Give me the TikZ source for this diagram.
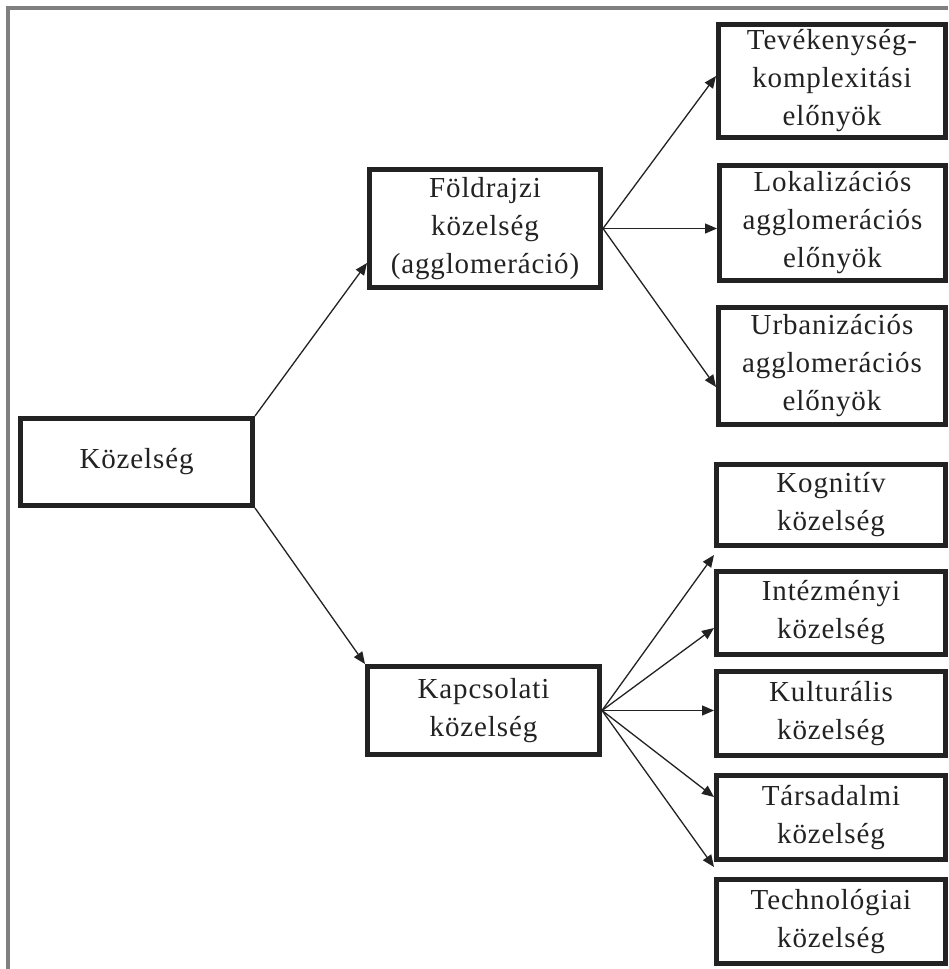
\documentclass[tikz,border=0pt]{standalone}
\usepackage{fontspec}
\setmainfont{Liberation Serif}[LetterSpace=3]
\usetikzlibrary{arrows.meta,calc}
\definecolor{boxc}{HTML}{222222}
\definecolor{txt}{HTML}{222222}
\definecolor{framec}{HTML}{808080}
\begin{document}
\begin{tikzpicture}[x=1pt,y=-1pt,
  box/.style={draw=boxc, line width=5pt, rectangle, inner sep=0pt, outer sep=2.5pt,
    align=center, font=\fontsize{29}{38}\selectfont, text=txt},
  arr/.style={draw=boxc, line width=1.3pt, -{Triangle[length=12pt,width=10pt]}},
]
\useasboundingbox (0,0) rectangle (948,969);
\fill[white] (0,0) rectangle (948,969);
\draw[framec, line width=4pt] (8,969) -- (8,8) -- (948,8);

\node[box, minimum width=232pt, minimum height=87pt] (kozel) at (136.5,462) {Közelség};
\node[box, minimum width=231pt, minimum height=118pt] (fold) at (485,228.5) {Földrajzi\\közelség\\(agglomeráció)};
\node[box, minimum width=232pt, minimum height=88pt] (kapcs) at (483.5,710.5) {Kapcsolati\\közelség};

\node[box, minimum width=227pt, minimum height=113pt] (tev) at (832,81) {Tevékenység-\\komplexitási\\előnyök};
\node[box, minimum width=226pt, minimum height=115pt] (lok) at (832.5,223) {Lokalizációs\\agglomerációs\\előnyök};
\node[box, minimum width=227pt, minimum height=117pt] (urb) at (832,366) {Urbanizációs\\agglomerációs\\előnyök};

\node[box, minimum width=229pt, minimum height=81pt] (kog) at (831,505) {Kognitív\\közelség};
\node[box, minimum width=229pt, minimum height=83pt] (int) at (831,613) {Intézményi\\közelség};
\node[box, minimum width=229pt, minimum height=84pt] (kul) at (831,713.5) {Kulturális\\közelség};
\node[box, minimum width=229pt, minimum height=84pt] (tar) at (831,817.5) {Társadalmi\\közelség};
\node[box, minimum width=229pt, minimum height=84pt] (tech) at (831,921.5) {Technológiai\\közelség};

\draw[arr] (kozel.north east) -- ($(fold.south west)+(0,-27)$);
\draw[arr] (kozel.south east) -- (kapcs.north west);

\draw[arr] (fold.east) -- ($(tev.north west)+(0,54)$);
\draw[arr] (fold.east) -- (fold.east -| lok.west);
\draw[arr] (fold.east) -- ($(urb.north west)+(0,82)$);

\draw[arr] (kapcs.east) -- ($(kog.south west)+(0,7)$);
\draw[arr] (kapcs.east) -- ($(int.north west)+(0,59)$);
\draw[arr] (kapcs.east) -- (kapcs.east -| kul.west);
\draw[arr] (kapcs.east) -- ($(tar.north west)+(0,24)$);
\draw[arr] (kapcs.east) -- ($(tech.north west)+(0,-10)$);
\end{tikzpicture}
\end{document}
